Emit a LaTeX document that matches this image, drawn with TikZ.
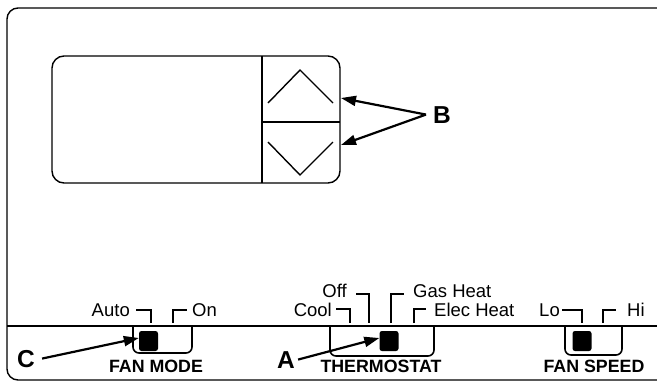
\documentclass[tikz,border=0pt]{standalone}
\usepackage{fontspec}
\setmainfont{Liberation Sans}
\usetikzlibrary{arrows.meta}
\begin{document}
\begin{tikzpicture}[x=1pt,y=-1pt,
  frame/.style={line width=1.4pt},
  tickmark/.style={line width=2.2pt},
  bracketline/.style={line width=1.6pt, rounded corners=6pt},
  small/.style={font=\fontsize{18.5}{21}\selectfont, inner sep=0pt},
  lbl/.style={font=\bfseries\fontsize{17.8}{20}\selectfont, inner sep=0pt},
  big/.style={font=\bfseries\fontsize{24.5}{28}\selectfont, inner sep=0pt},
  pointer/.style={line width=2.2pt, -{Triangle[length=15pt,width=10pt]}},
  knob/.style={fill=black, draw=none, rounded corners=2.5pt, inner sep=0pt, minimum width=19pt, minimum height=20pt}]
\useasboundingbox (0,0) rectangle (657,381);
% outer frame
\begin{scope}
\clip (0,0) rectangle (657,381);
\draw[frame, rounded corners=11pt] (7,8) rectangle (675,380);
\end{scope}
\draw[frame] (7,326) -- (657,326);
% display
\draw[frame, rounded corners=12pt] (52,56) rectangle (340,183);
\draw[frame] (262,56) -- (262,183);
\draw[frame] (262,122) -- (340,122);
\draw[frame] (268,103) -- (300,70) -- (333,103);
\draw[frame] (268,142) -- (300,175) -- (333,142);
\coordinate (up) at (341,98);
\coordinate (down) at (341,145);
\node[big, anchor=base west] (B) at (433,123) {B};
\draw[pointer] ([xshift=-7pt]B.west) -- (up);
\draw[pointer] ([xshift=-7pt]B.west) -- (down);
% FAN MODE
\draw[bracketline] (133,326) -- (133,353) -- (192,353) -- (192,326);
\node[knob] (k1) at (148.5,341) {};
\node[small, anchor=base east] (auto) at (130,316) {Auto};
\node[small, anchor=base west] (on) at (192,316) {On};
\draw[tickmark] (136,310) -- (151,310) -- (151,323);
\draw[tickmark] (173,323) -- (173,310) -- (187,310);
\node[lbl, anchor=base] (fm) at (156,372) {FAN MODE};
\node[big, anchor=base west] (C) at (17,367) {C};
\draw[pointer] ([xshift=7pt]C.east) -- ([yshift=3pt]k1.west);
% THERMOSTAT
\draw[bracketline] (330,326) -- (330,356) -- (434,356) -- (434,326);
\node[knob] (k2) at (389,341) {};
\node[small, anchor=base east] (off) at (347,297) {Off};
\node[small, anchor=base east] (cool) at (332,316) {Cool};
\node[small, anchor=base west] (gas) at (413,297) {Gas Heat};
\node[small, anchor=base west] (elec) at (434,316) {Elec Heat};
\draw[tickmark] (336,309) -- (350,309) -- (350,323);
\draw[tickmark] (356,294) -- (369,294) -- (369,323);
\draw[tickmark] (391,323) -- (391,294) -- (404,294);
\draw[tickmark] (414,323) -- (414,309) -- (426,309);
\node[lbl, anchor=base] (th) at (381,372) {THERMOSTAT};
\node[big, anchor=base west] (A) at (277,368) {A};
\draw[pointer] ([xshift=3pt]A.east) -- ([yshift=3pt]k2.west);
% FAN SPEED
\draw[bracketline] (565,326) -- (565,355) -- (622,355) -- (622,326);
\node[knob] (k3) at (582,341) {};
\node[small, anchor=base east] (lo) at (560,316) {Lo};
\node[small, anchor=base west] (hi) at (627,316) {Hi};
\draw[tickmark] (562,310) -- (582,310) -- (582,323);
\draw[tickmark] (603,323) -- (603,310) -- (616,310);
\node[lbl, anchor=base] (fs) at (594,372) {FAN SPEED};
\end{tikzpicture}
\end{document}
